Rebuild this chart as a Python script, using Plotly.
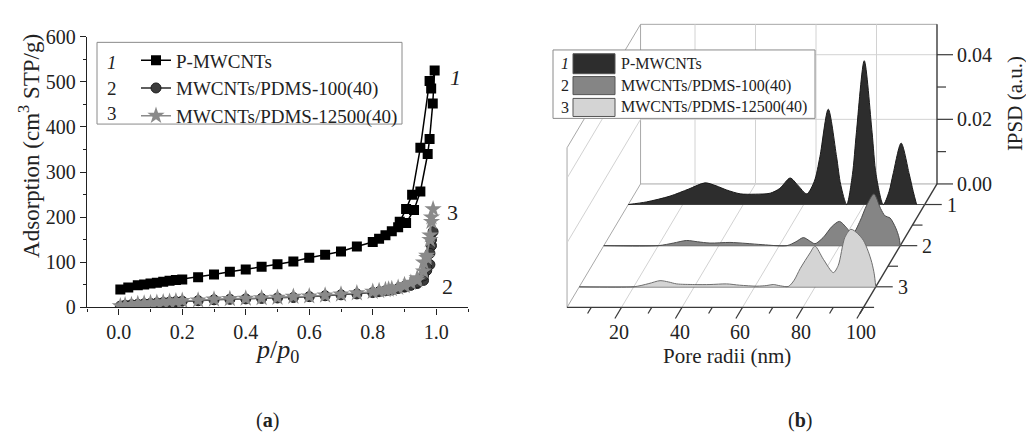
import plotly.graph_objects as go

W, H = 1026, 442
FONT = "Liberation Serif, Times New Roman, serif"

# ================= (a) nitrogen adsorption isotherms =================
p_rel_1 = [0.005, 0.03, 0.06, 0.08, 0.10, 0.12, 0.14, 0.16, 0.18, 0.20, 0.25, 0.30, 0.35, 0.40,
           0.45, 0.50, 0.55, 0.60, 0.65, 0.70, 0.75, 0.80, 0.82, 0.84, 0.86, 0.88, 0.905, 0.93,
           0.95, 0.973, 0.979, 0.989, 0.995, 0.984, 0.979, 0.95, 0.924, 0.905, 0.885]
ads_1 = [40, 44, 49, 51, 53, 55, 57, 59, 61, 62, 67, 73, 79, 84,
         90, 96, 102, 110, 117, 124, 135, 145, 152, 160, 169, 178, 187, 216,
         257, 340, 373, 452, 525, 485, 502, 354, 250, 218, 190]

p_rel_2 = [0.005, 0.02, 0.04, 0.06, 0.08, 0.10, 0.12, 0.14, 0.16, 0.18, 0.20, 0.25, 0.30, 0.35,
           0.40, 0.45, 0.50, 0.55, 0.60, 0.65, 0.70, 0.75, 0.80, 0.82, 0.84, 0.86, 0.88, 0.90,
           0.92, 0.94, 0.96, 0.97, 0.98, 0.985, 0.99, 0.985, 0.98, 0.97, 0.96, 0.94, 0.90, 0.85]
ads_2 = [3, 5, 6, 7, 8, 9, 10, 11, 12, 13, 14, 15, 17, 18,
         19, 20, 21, 22, 24, 26, 28, 30, 33, 35, 37, 39, 42, 45,
         49, 53, 60, 82, 95, 137, 168, 150, 120, 90, 70, 55, 47, 38]

p_rel_3 = [0.005, 0.02, 0.04, 0.06, 0.08, 0.10, 0.12, 0.14, 0.16, 0.18, 0.20, 0.25, 0.30, 0.35,
           0.40, 0.45, 0.50, 0.55, 0.60, 0.65, 0.70, 0.75, 0.80, 0.82, 0.84, 0.86, 0.88, 0.90,
           0.92, 0.94, 0.96, 0.97, 0.98, 0.985, 0.99, 0.985, 0.98, 0.97, 0.96, 0.94, 0.90, 0.85]
ads_3 = [3, 5, 6, 8, 9, 10, 11, 12, 13, 14, 15, 16, 18, 19,
         20, 21, 22, 24, 25, 27, 29, 32, 35, 37, 39, 41, 44, 48,
         55, 65, 100, 115, 150, 200, 218, 190, 160, 110, 80, 60, 50, 40]

names = ["P-MWCNTs", "MWCNTs/PDMS-100(40)", "MWCNTs/PDMS-12500(40)"]
tags = ["1", "2", "3"]
x_ticks_a = [0.0, 0.2, 0.4, 0.6, 0.8, 1.0]
x_ticklabels_a = ["0.0", "0.2", "0.4", "0.6", "0.8", "1.0"]
y_ticks_a = [0, 100, 200, 300, 400, 500, 600]

# ================= (b) pore size distributions =================
radii_1 = [2, 8, 15.8, 22, 27.4, 31, 34.5, 39, 44, 48.9, 52.1, 55.5, 58, 61, 63.5, 65.35, 68.1,
           70.85, 72.2, 74.2, 76.1, 77.4, 80, 82.6, 83.9, 86.3, 88.2, 89.55, 92.2, 94.85, 96.2, 97.3]
ipsd_1 = [0, 0.0008, 0.0026, 0.0048, 0.0067, 0.0058, 0.0045, 0.0033, 0.0032, 0.0035, 0.0050,
          0.0082, 0.0060, 0.0033, 0.0072, 0.0148, 0.0295, 0.0148, 0.0062, 0.0, 0.0093, 0.0222,
          0.0445, 0.0222, 0.0093, 0.0, 0.0040, 0.0095, 0.0190, 0.0095, 0.0040, 0]

radii_2 = [2, 20, 25, 29.4, 33, 37.1, 43.7, 49, 54.6, 62.5, 65.5, 68, 70, 71.8, 74.5, 77.5, 79.9,
           82.3, 84.2, 86.7, 88.9, 91.3, 93.5, 95, 96.6, 98.5, 99.6, 100]
ipsd_2 = [0, 0, 0.0008, 0.0016, 0.0012, 0.0008, 0.0010, 0.0007, 0.0003, 0, 0.0012, 0.0025,
          0.0015, 0.0006, 0.0025, 0.0060, 0.0075, 0.0055, 0.0035, 0.0076, 0.0125, 0.0160, 0.0115,
          0.0092, 0.0086, 0.0055, 0.0025, 0]

radii_3 = [2, 20, 25, 28.7, 31.5, 34.2, 40, 45.2, 50.7, 55, 60.7, 64, 66.1, 68.5, 71.1, 73, 75,
           78.3, 79.9, 82.7, 86, 87.6, 89.8, 91.8, 94, 95.9, 97.5, 98.7, 99.5, 100]
ipsd_3 = [0, 0, 0.0010, 0.0019, 0.0015, 0.0009, 0.0007, 0.0007, 0.0009, 0.0005, 0.0002, 0.0004,
          0.0007, 0.0003, 0.0001, 0.0020, 0.0056, 0.0105, 0.0126, 0.0085, 0.0044, 0.0066, 0.0153,
          0.0178, 0.0165, 0.0144, 0.0110, 0.0075, 0.0040, 0]

series_z = [1, 2, 3]
r_ticks = [20, 40, 60, 80, 100]
r_minor = [10, 30, 50, 70, 90]
v_ticks = [0.00, 0.02, 0.04]
v_minor = [0.01, 0.03]
z_minor = [1.5, 2.5]

# ---------- pixel helpers (figure is W x H, no margins) ----------
def pxx(p):
    return p / W

def pxy(p):
    return 1 - p / H

# ---------- oblique projection for panel (b) ----------
R_MIN, R_MAX, R_FRONT_END = 2, 100, 103.5
V_MAX = 0.0494
Z_BACK, Z_FRONT = 0.5, 3.5
PX_PER_NM = 3.025
PX_PER_V = 3400.0
BACK_R100_PX, BACK_V0_PX = 937, 182
SHIFT_R = -8.1              # nm of screen shift per z unit
SHIFT_V = -43.3 / PX_PER_V  # IPSD of screen shift per z unit
NM_PER_PX = 1 / PX_PER_NM
V_PER_PX = 1 / PX_PER_V

def proj(r, z, v):
    return (r + (z - Z_BACK) * SHIFT_R, v + (z - Z_BACK) * SHIFT_V)

x2_range = [100 - (BACK_R100_PX - 540) / PX_PER_NM, 100 + (W - BACK_R100_PX) / PX_PER_NM]
y2_range = [-(H - BACK_V0_PX) / PX_PER_V, BACK_V0_PX / PX_PER_V]

fig = go.Figure()

# ----- panel (a) traces -----
styles_a = [
    dict(symbol="square", size=10, color="#000000", line=dict(width=0)),
    dict(symbol="circle", size=10, color="#3c3c3c", line=dict(width=1, color="#1e1e1e")),
    dict(symbol="star", size=13, color="#8a8a8a", line=dict(width=0)),
]
line_cols = ["#000000", "#2a2a2a", "#8a8a8a"]
for px_, ay, nm, st, lc in zip([p_rel_1, p_rel_2, p_rel_3], [ads_1, ads_2, ads_3], names, styles_a, line_cols):
    fig.add_trace(go.Scatter(x=px_, y=ay, name=nm, mode="lines+markers",
                             line=dict(color=lc, width=1.5), marker=st,
                             xaxis="x", yaxis="y", legend="legend"))

# ----- panel (b) traces -----
fills = ["#2d2d2d", "#858585", "#d4d4d4"]
edges = ["#1a1a1a", "#4d4d4d", "#6e6e6e"]
for rr, vv, z, fc, ec in zip([radii_1, radii_2, radii_3], [ipsd_1, ipsd_2, ipsd_3],
                             series_z, fills, edges):
    b0 = proj(R_MIN, z, 0)
    b1 = proj(R_MAX, z, 0)
    fig.add_trace(go.Scatter(x=[b0[0], b1[0]], y=[b0[1], b1[1]], mode="lines",
                             line=dict(color="#555555", width=1.2), showlegend=False,
                             hoverinfo="skip", xaxis="x2", yaxis="y2"))
    pts = [proj(r, z, v) for r, v in zip(rr, vv)]
    fig.add_trace(go.Scatter(x=[p[0] for p in pts], y=[p[1] for p in pts], mode="lines",
                             line=dict(color=ec, width=1, shape="spline", smoothing=0.8),
                             fill="toself", fillcolor=fc, showlegend=False,
                             xaxis="x2", yaxis="y2"))

shapes = []
annotations = []

def seg(p, q, color, width=1.0, layer="below"):
    shapes.append(dict(type="line", xref="x2", yref="y2", x0=p[0], y0=p[1], x1=q[0], y1=q[1],
                       line=dict(color=color, width=width), layer=layer))

def label(x, y, text, size, xref="paper", yref="paper", xanchor="center", yanchor="middle", angle=0):
    annotations.append(dict(x=x, y=y, xref=xref, yref=yref, text=text, showarrow=False,
                            xanchor=xanchor, yanchor=yanchor, textangle=angle,
                            font=dict(family=FONT, size=size, color="#222")))

GRID = "#d2d2d2"
EDGE = "#a8a8a8"
DARK = "#3a3a3a"
# back wall
seg(proj(R_MIN, Z_BACK, 0), proj(R_MIN, Z_BACK, V_MAX), EDGE)
seg(proj(R_MIN, Z_BACK, V_MAX), proj(R_MAX, Z_BACK, V_MAX), EDGE)
seg(proj(R_MIN, Z_BACK, 0), proj(R_MAX, Z_BACK, 0), EDGE)
for r in r_ticks[:-1]:
    seg(proj(r, Z_BACK, 0), proj(r, Z_BACK, V_MAX), GRID)
for v in v_ticks[1:]:
    seg(proj(R_MIN, Z_BACK, v), proj(R_MAX, Z_BACK, v), GRID)
# left wall
seg(proj(R_MIN, Z_BACK, V_MAX), proj(R_MIN, Z_FRONT, V_MAX), EDGE)
seg(proj(R_MIN, Z_FRONT, V_MAX), proj(R_MIN, Z_FRONT, 0), EDGE)
seg(proj(R_MIN, Z_BACK, 0), proj(R_MIN, Z_FRONT, 0), EDGE)
for v in v_ticks[1:]:
    seg(proj(R_MIN, Z_BACK, v), proj(R_MIN, Z_FRONT, v), GRID)
# floor grid
for r in r_ticks[:-1]:
    seg(proj(r, Z_BACK, 0), proj(r, Z_FRONT, 0), GRID)
# front (pore radius) axis
seg(proj(R_MIN, Z_FRONT, 0), proj(R_FRONT_END, Z_FRONT, 0), DARK, 1.4)
for r in r_ticks:
    seg(proj(r, Z_FRONT, 0), proj(r, Z_FRONT + 0.27, 0), DARK, 1.2)
for r in r_minor:
    seg(proj(r, Z_FRONT, 0), proj(r, Z_FRONT + 0.15, 0), DARK, 1.2)
# series (z) axis
seg(proj(R_MAX, Z_BACK, 0), proj(R_MAX, Z_FRONT + 0.15, 0), DARK, 1.4)
for z in series_z:
    p = proj(R_MAX, z, 0)
    seg(p, (p[0] + 17 * NM_PER_PX, p[1]), DARK, 1.2)
for z in z_minor:
    p = proj(R_MAX, z, 0)
    seg(p, (p[0] + 10 * NM_PER_PX, p[1]), DARK, 1.2)
# IPSD axis on the back wall
seg(proj(R_MAX, Z_BACK, 0), proj(R_MAX, Z_BACK, V_MAX), DARK, 1.4)
for v in v_ticks:
    p = proj(R_MAX, Z_BACK, v)
    seg(p, (p[0] + 16 * NM_PER_PX, p[1]), DARK, 1.2)
for v in v_minor:
    p = proj(R_MAX, Z_BACK, v)
    seg(p, (p[0] + 9 * NM_PER_PX, p[1]), DARK, 1.2)

# tick labels (b)
for v in v_ticks:
    p = proj(R_MAX, Z_BACK, v)
    label(p[0] + 18 * NM_PER_PX, p[1], f"{v:.2f}", 20, "x2", "y2", xanchor="left")
for r in r_ticks:
    p = proj(r, Z_FRONT, 0)
    label(p[0] - 2 * NM_PER_PX, p[1] - 26 * V_PER_PX, str(r), 20, "x2", "y2")
for z, t in zip(series_z, tags):
    p = proj(R_MAX, z, 0)
    label(p[0] + 20 * NM_PER_PX, p[1], t, 20, "x2", "y2", xanchor="left")

# axis titles (b)
label(pxx(727), pxy(363), "Pore radii (nm)", 21)
label(pxx(1015), pxy(98), "IPSD (a.u.)", 21, angle=-90)

# legend (b): box, swatches and labels
shapes.append(dict(type="rect", xref="paper", yref="paper", x0=pxx(553), x1=pxx(815),
                   y0=pxy(113), y1=pxy(41), line=dict(color="#8a8a8a", width=1),
                   fillcolor="white", layer="above"))
rows_b = [(45, 66), (69, 88), (92, 111)]
for (y0, y1), fc, t, nm in zip(rows_b, fills, tags, names):
    shapes.append(dict(type="rect", xref="paper", yref="paper", x0=pxx(573), x1=pxx(615),
                       y0=pxy(y1), y1=pxy(y0), line=dict(color="#555", width=1),
                       fillcolor=fc, layer="above"))
    yc = (y0 + y1) / 2
    label(pxx(565), pxy(yc), f"<i>{t}</i>" if t == "1" else t, 16)
    label(pxx(619), pxy(yc), nm, 16, xanchor="left")

# ----- panel (a) decorations -----
shapes.append(dict(type="rect", xref="paper", yref="paper", x0=pxx(97), x1=pxx(402),
                   y0=pxy(119), y1=pxy(33), line=dict(color="#8a8a8a", width=1), layer="above"))
for t, yc in zip(tags, [54, 82, 108]):
    label(pxx(112), pxy(yc), f"<i>{t}</i>" if t == "1" else t, 19)
# curve labels
for t, (xv, yv) in zip(tags, [(1.037, 509), (1.012, 46), (1.027, 210)]):
    label(xv, yv, f"<i>{t}</i>" if t == "1" else t, 22, "x", "y", xanchor="left")
label(pxx(30), pxy(142), "Adsorption (cm<sup>3</sup> STP/g)", 23, angle=-90)
label(pxx(277), pxy(358), "<i>p</i>/<i>p</i><sub>0</sub>", 26)
label(pxx(267), pxy(431), "(<b>a</b>)", 20)
label(pxx(800), pxy(431), "(<b>b</b>)", 20)

tickfont = dict(family=FONT, size=20, color="#222")
fig.update_layout(
    width=W, height=H, margin=dict(l=0, r=0, t=0, b=0),
    paper_bgcolor="white", plot_bgcolor="white",
    font=dict(family=FONT, color="#222"),
    xaxis=dict(domain=[pxx(87), pxx(468)], range=[-0.1, 1.1], tickvals=x_ticks_a,
               ticktext=x_ticklabels_a, ticks="outside", ticklen=6, tickwidth=1.2,
               tickcolor="#222", showline=True, linecolor="#222", linewidth=1.4,
               showgrid=False, zeroline=False, tickfont=tickfont, anchor="y",
               minor=dict(dtick=0.1, ticks="outside", ticklen=3, tickcolor="#222", showgrid=False)),
    yaxis=dict(domain=[pxy(312), pxy(27)], range=[0, 600], tickvals=y_ticks_a,
               ticks="outside", ticklen=6, tickwidth=1.2, tickcolor="#222",
               showline=True, linecolor="#222", linewidth=1.4, showgrid=False, zeroline=False,
               tickfont=tickfont, anchor="x",
               minor=dict(dtick=50, ticks="outside", ticklen=3, tickcolor="#222", showgrid=False)),
    xaxis2=dict(domain=[pxx(540), 1], range=x2_range, visible=False, anchor="y2", fixedrange=True),
    yaxis2=dict(domain=[0, 1], range=y2_range, visible=False, anchor="x2", fixedrange=True),
    legend=dict(x=pxx(136), y=pxy(32), xanchor="left", yanchor="top", bgcolor="rgba(0,0,0,0)",
                borderwidth=0, font=dict(family=FONT, size=19, color="#222"), tracegroupgap=0),
    shapes=shapes, annotations=annotations, showlegend=True,
)

fig.write_html("out.html")
